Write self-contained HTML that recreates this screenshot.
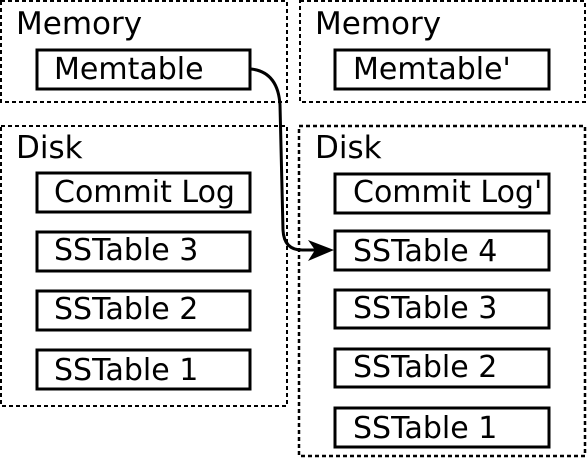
<!DOCTYPE html>
<html><head><style>body{margin:0;background:#fff}</style></head><body>
<svg width="588" height="459" xmlns="http://www.w3.org/2000/svg" font-family="DejaVu Sans, sans-serif">
<g fill="none" stroke="#000" stroke-width="2" stroke-dasharray="4,3">
<rect x="1" y="1" width="286" height="101"/>
<rect x="1" y="126" width="286" height="280"/>
<rect x="300" y="1" width="285" height="101"/>
<rect x="299" y="126" width="286" height="330" stroke-width="2.5"/>
</g>
<g fill="#000" font-size="31">
<text x="16" y="34">Memory</text>
<text x="16" y="158">Disk</text>
<text x="315" y="34">Memory</text>
<text x="315" y="158">Disk</text>
</g>
<g fill="#fff" stroke="#000" stroke-width="3">
<rect x="37" y="50" width="213" height="39"/>
<rect x="37" y="173" width="213" height="39"/>
<rect x="37" y="232" width="213" height="39"/>
<rect x="37" y="291" width="213" height="39"/>
<rect x="37" y="350" width="213" height="39"/>
<rect x="335" y="50" width="214" height="39"/>
<rect x="335" y="174" width="214" height="39"/>
<rect x="335" y="231" width="214" height="39"/>
<rect x="335" y="290" width="214" height="38"/>
<rect x="335" y="349" width="214" height="38"/>
<rect x="335" y="408" width="214" height="39"/>
</g>
<g fill="#000" font-size="30">
<text x="54" y="79">Memtable</text>
<text x="54" y="202">Commit Log</text>
<text x="54" y="260">SSTable 3</text>
<text x="54" y="319">SSTable 2</text>
<text x="54" y="380">SSTable 1</text>
<text x="353" y="79">Memtable'</text>
<text x="353" y="202">Commit Log'</text>
<text x="353" y="261">SSTable 4</text>
<text x="353" y="318">SSTable 3</text>
<text x="353" y="377">SSTable 2</text>
<text x="353" y="438">SSTable 1</text>
</g>
<path d="M251,69 Q278,72 280,105 L283,230 Q284,250 302,250 L320,250" fill="none" stroke="#000" stroke-width="3"/>
<path d="M334,250 L308,240 L315,250 L308,261 Z" fill="#000"/>
</svg>
</body></html>
